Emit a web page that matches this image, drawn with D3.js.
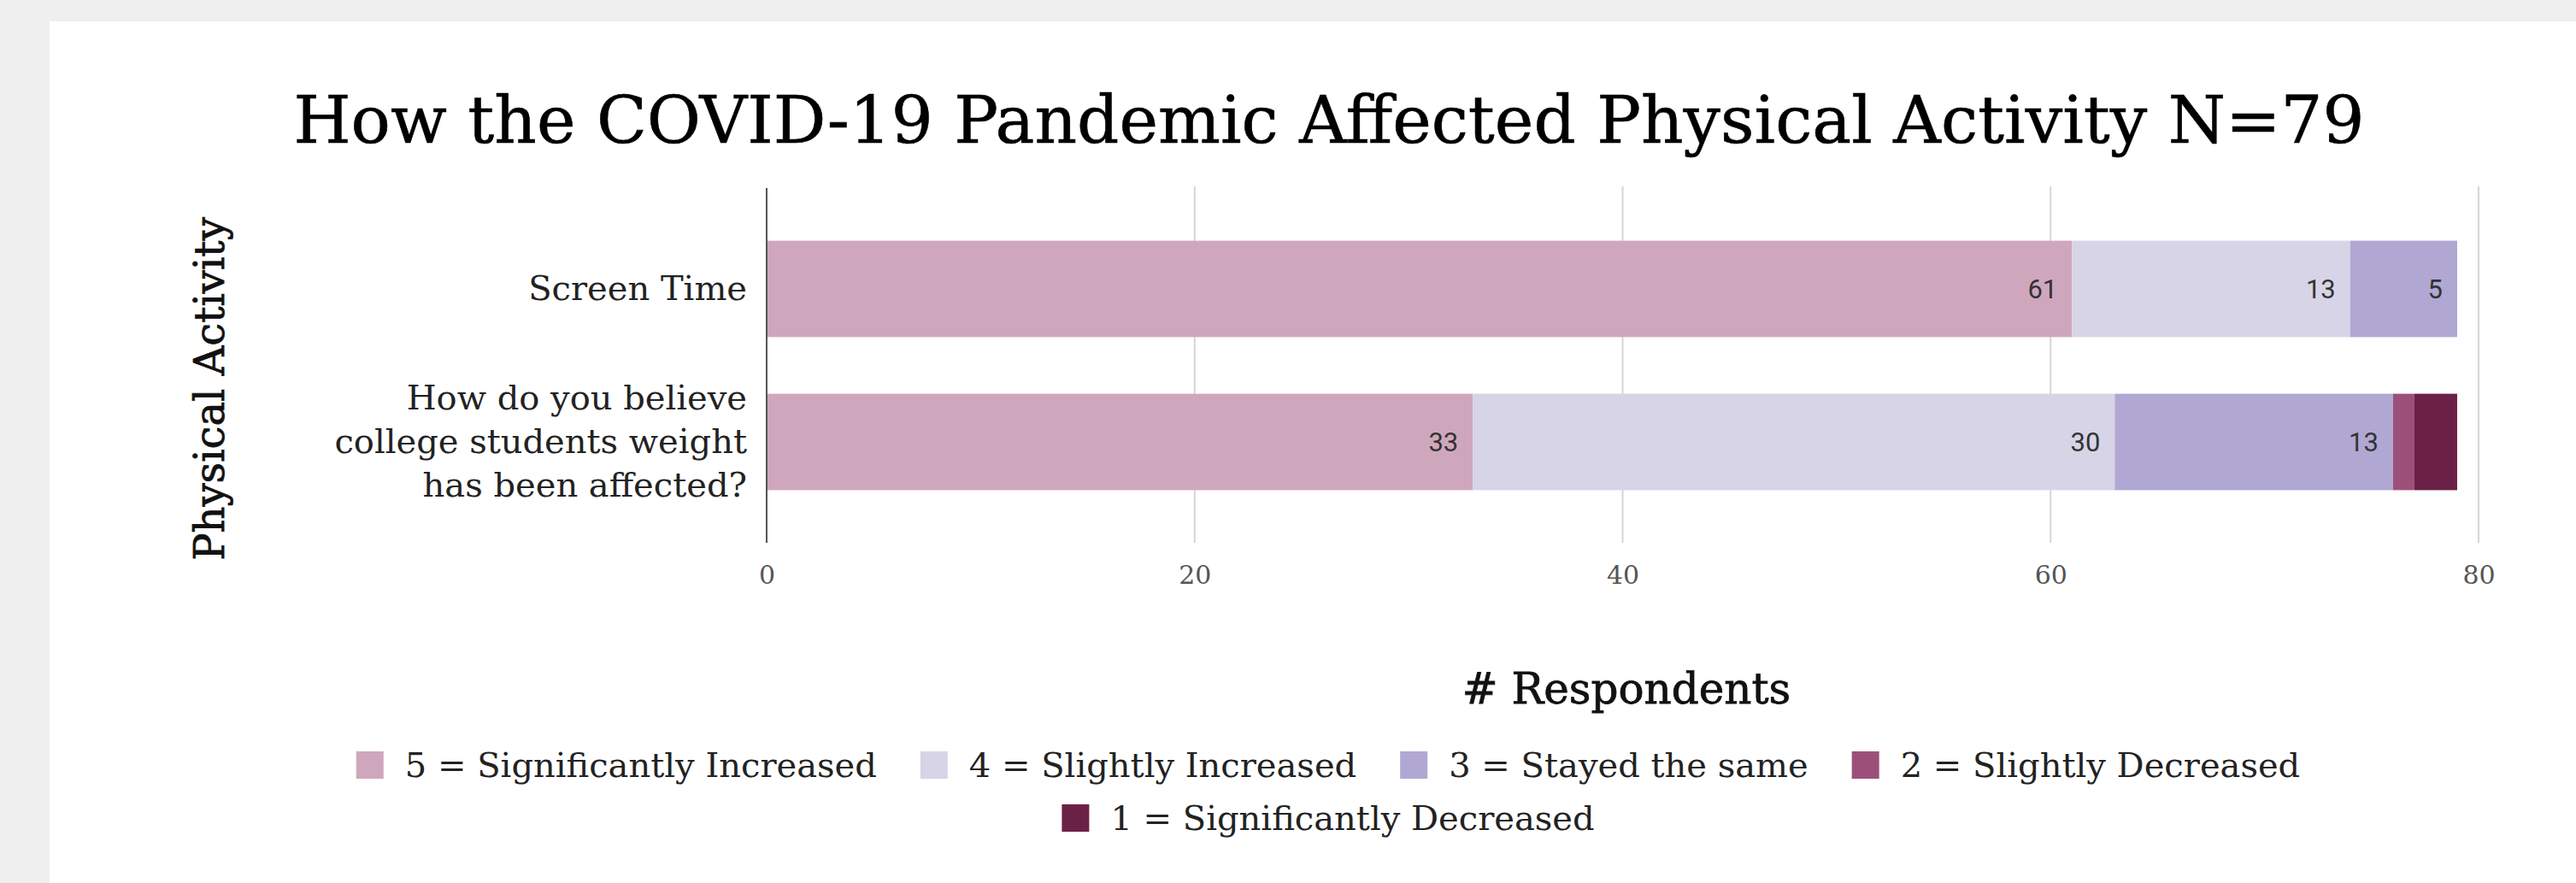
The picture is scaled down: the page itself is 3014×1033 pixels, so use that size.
<!DOCTYPE html>
<html>
<head>
<meta charset="utf-8">
<script src="https://cdn.jsdelivr.net/npm/d3@7"></script>
<style>
  html, body { margin: 0; padding: 0; background: #efefef; }
  svg { display: block; }
</style>
</head>
<body>
<svg id="chart" width="3014" height="1033"></svg>
<script>
// Survey questions (one stacked bar each)
const categories = [
  "Screen Time",
  "How do you believe college students weight has been affected?"
];

// Response levels, stacked left to right
const seriesNames = [
  "5 = Significantly Increased",
  "4 = Slightly Increased",
  "3 = Stayed the same",
  "2 = Slightly Decreased",
  "1 = Significantly Decreased"
];
const seriesColors = ["#cfa7bd", "#d7d4e7", "#b0a8d3", "#9c5079", "#6b2145"];

// Respondent counts per question, one array per response level
const sigIncreased    = [61, 33];
const slightIncreased = [13, 30];
const stayedSame      = [5, 13];
const slightDecreased = [0, 1];
const sigDecreased    = [0, 2];

const xTicks = [0, 20, 40, 60, 80];

const titleText = "How the COVID-19 Pandemic Affected Physical Activity N=79";
const xTitle = "# Respondents";
const yTitle = "Physical Activity";

// ---- build stacked rows ----
const seriesValues = [sigIncreased, slightIncreased, stayedSame, slightDecreased, sigDecreased];
const rows = categories.map((c, i) => {
  const r = { category: c };
  seriesNames.forEach((s, k) => { r[s] = seriesValues[k][i]; });
  return r;
});
const stacked = d3.stack().keys(seriesNames)(rows);

const svg = d3.select("#chart");
const serif = "'DejaVu Serif', Georgia, serif";

// card background
svg.append("rect")
  .attr("x", 58).attr("y", 25)
  .attr("width", 3014 - 58).attr("height", 1033 - 25)
  .attr("fill", "#ffffff");

// scales
const x = d3.scaleLinear().domain([0, 80]).range([897, 2900]);
const y = d3.scaleBand().domain(categories).range([220, 635])
  .paddingInner(0.37).paddingOuter(0.344);
const color = d3.scaleOrdinal().domain(seriesNames).range(seriesColors);

// title
svg.append("text")
  .attr("x", 1555).attr("y", 167)
  .attr("text-anchor", "middle")
  .attr("font-family", serif)
  .attr("font-size", 77)
  .attr("fill", "#000")
  .attr("stroke", "#000").attr("stroke-width", 0.6)
  .text(titleText);

// gridlines
const grid = svg.append("g");
grid.selectAll("line")
  .data(xTicks.filter(t => t !== 0))
  .join("line")
  .attr("x1", d => x(d)).attr("x2", d => x(d))
  .attr("y1", 218).attr("y2", 635)
  .attr("stroke", "#d6d6d6").attr("stroke-width", 2);

// x axis labels
const xAxis = d3.axisBottom(x).tickValues(xTicks).tickSize(0).tickPadding(0);
const xg = svg.append("g").attr("transform", "translate(0,683)").call(xAxis);
xg.select(".domain").remove();
xg.selectAll("text")
  .attr("dy", 0)
  .attr("font-family", serif)
  .attr("font-size", 30)
  .attr("fill", "#555");

// bars
const layer = svg.append("g").selectAll("g")
  .data(stacked)
  .join("g")
  .attr("fill", d => color(d.key));

layer.selectAll("rect")
  .data(d => d.map(p => Object.assign(p, { key: d.key })))
  .join("rect")
  .attr("x", d => x(d[0]))
  .attr("y", d => y(d.data.category))
  .attr("width", d => x(d[1]) - x(d[0]))
  .attr("height", y.bandwidth());

// value labels inside segments
svg.append("g").selectAll("g")
  .data(stacked)
  .join("g")
  .selectAll("text")
  .data(d => d.filter(p => x(p[1]) - x(p[0]) > 60))
  .join("text")
  .attr("x", d => x(d[1]) - 17)
  .attr("y", d => y(d.data.category) + y.bandwidth() / 2 + 11)
  .attr("text-anchor", "end")
  .attr("font-family", "Roboto, 'Noto Sans', sans-serif")
  .attr("font-size", 31)
  .attr("fill", "#333")
  .text(d => d[1] - d[0]);

// zero axis line
svg.append("line")
  .attr("x1", x(0)).attr("x2", x(0))
  .attr("y1", 220).attr("y2", 635)
  .attr("stroke", "#555").attr("stroke-width", 2);

// category labels, wrapped
const catG = svg.append("g");
categories.forEach(cat => {
  const t = catG.append("text")
    .attr("text-anchor", "end")
    .attr("font-family", serif)
    .attr("font-size", 40)
    .attr("fill", "#222");
  const words = cat.split(" ");
  const lines = [];
  let line = [];
  words.forEach(w => {
    line.push(w);
    t.text(line.join(" "));
    if (t.node().getComputedTextLength() > 500 && line.length > 1) {
      line.pop();
      lines.push(line.join(" "));
      line = [w];
    }
  });
  lines.push(line.join(" "));
  t.text(null);
  const lh = 51;
  const cy = y(cat) + y.bandwidth() / 2 + 13 - (lines.length - 1) * lh / 2;
  lines.forEach((l, i) => {
    t.append("tspan").attr("x", 874).attr("y", cy + i * lh).text(l);
  });
});

// axis titles
svg.append("text")
  .attr("x", 1903).attr("y", 823)
  .attr("text-anchor", "middle")
  .attr("font-family", serif)
  .attr("font-size", 50)
  .attr("fill", "#111")
  .attr("stroke", "#111").attr("stroke-width", 0.8)
  .text(xTitle);

svg.append("text")
  .attr("transform", "translate(262,455) rotate(-90)")
  .attr("text-anchor", "middle")
  .attr("font-family", serif)
  .attr("font-size", 48)
  .attr("fill", "#111")
  .attr("stroke", "#111").attr("stroke-width", 0.8)
  .text(yTitle);

// legend
const sw = 32, swGap = 25, itemGap = 51, maxRow = 2500, rowH = 62;
const legend = svg.append("g");
const items = seriesNames.map(name => {
  const g = legend.append("g");
  g.append("rect").attr("width", sw).attr("height", sw).attr("fill", color(name));
  const t = g.append("text")
    .attr("x", sw + swGap).attr("y", sw - 2)
    .attr("font-family", serif)
    .attr("font-size", 40)
    .attr("fill", "#222")
    .text(name);
  return { g, w: sw + swGap + t.node().getComputedTextLength() };
});
const legendRows = [];
let cur = [], curW = 0;
items.forEach(it => {
  const add = (cur.length ? itemGap : 0) + it.w;
  if (cur.length && curW + add > maxRow) {
    legendRows.push({ items: cur, w: curW });
    cur = [it]; curW = it.w;
  } else {
    cur.push(it); curW += add;
  }
});
legendRows.push({ items: cur, w: curW });
legendRows.forEach((row, ri) => {
  let xx = 1554 - row.w / 2;
  row.items.forEach(it => {
    it.g.attr("transform", `translate(${xx},${879 + ri * rowH})`);
    xx += it.w + itemGap;
  });
});
</script>
</body>
</html>
